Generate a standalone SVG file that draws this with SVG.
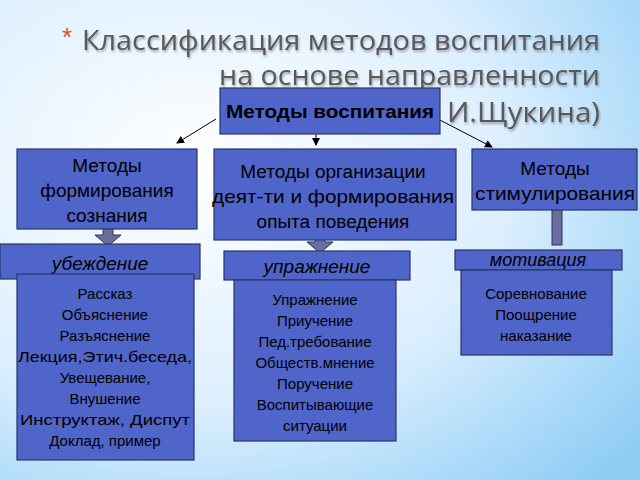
<svg xmlns="http://www.w3.org/2000/svg" width="640" height="480" viewBox="0 0 640 480">
<defs>
<radialGradient id="bg" cx="0.3" cy="0.35" r="0.9">
<stop offset="0" stop-color="#ffffff"/><stop offset="0.55" stop-color="#dcefff"/><stop offset="1" stop-color="#8fcdf5"/>
</radialGradient>
<marker id="ah" markerWidth="8" markerHeight="8" refX="7" refY="4" orient="auto" markerUnits="userSpaceOnUse">
<path d="M0,0 L8,4 L0,8 z" fill="#000"/>
</marker>
<filter id="sh"><feDropShadow dx="1" dy="2" stdDeviation="1" flood-color="#555" flood-opacity="0.5"/></filter>
</defs>
<style>
.b{fill:#5065c9;stroke:#2a3566;stroke-width:1.2}
.t{font-family:"Liberation Sans",Arial,sans-serif;fill:#000;text-anchor:middle}
.ti{font-family:"Open Sans","DejaVu Sans",sans-serif;font-size:28px;fill:#595959;filter:url(#sh)}
.ba{fill:#6c6c9e;stroke:#2a3566;stroke-width:1}
.ln{stroke:#000;stroke-width:1;fill:none;marker-end:url(#ah)}
</style>
<rect width="640" height="480" fill="url(#bg)"/>
<g id="title">
<text x="62" y="46" font-family="Liberation Sans,sans-serif" font-size="26" fill="#e0502a">*</text>
<text class="ti" x="82" y="50" textLength="518" lengthAdjust="spacingAndGlyphs">Классификация методов воспитания</text>
<text class="ti" x="219" y="85" textLength="381" lengthAdjust="spacingAndGlyphs">на основе направленности</text>
<text class="ti" x="447" y="122" textLength="153" lengthAdjust="spacingAndGlyphs">И.Щукина)</text>
</g>
<g id="connectors">
<line class="ln" x1="216" y1="119" x2="177" y2="143"/>
<line class="ln" x1="316" y1="110" x2="316" y2="145"/>
<line class="ln" x1="438" y1="119" x2="492" y2="147"/>
<path class="ba" d="M103,225 h10 v10 h8 l-13,11 l-13,-11 h8 z"/>
<path class="ba" d="M315,231 h10 v11 h8 l-13,11 l-13,-11 h8 z"/>
<rect class="ba" x="552" y="208" width="10" height="37"/>
</g>
<g id="root"><rect class="b" x="220" y="88" width="220" height="46"/>
<text class="t" x="330" y="118" font-size="18" font-weight="bold" textLength="208" lengthAdjust="spacingAndGlyphs">Методы воспитания</text></g>
<g id="n1"><rect class="b" x="17" y="149" width="180" height="80"/>
<text class="t" font-size="19"><tspan x="107" y="172">Методы</tspan><tspan x="107" y="197">формирования</tspan><tspan x="107" y="222">сознания</tspan></text></g>
<g id="n2"><rect class="b" x="214" y="149" width="242" height="91"/>
<text class="t" font-size="19"><tspan x="333" y="178">Методы организации</tspan><tspan x="333" y="203" textLength="242" lengthAdjust="spacingAndGlyphs">деят-ти и формирования</tspan><tspan x="333" y="228">опыта поведения</tspan></text></g>
<g id="n3"><rect class="b" x="472" y="149" width="165" height="61"/>
<text class="t" font-size="19"><tspan x="555" y="175">Методы</tspan><tspan x="555" y="200" textLength="160" lengthAdjust="spacingAndGlyphs">стимулирования</tspan></text></g>
<g id="h1"><rect class="b" x="0" y="244" width="200" height="35"/>
<text class="t" x="100" y="270" font-size="19" font-style="italic">убеждение</text></g>
<g id="h2"><rect class="b" x="224" y="251" width="186" height="29"/>
<text class="t" x="317" y="273" font-size="19" font-style="italic">упражнение</text></g>
<g id="h3"><rect class="b" x="455" y="250" width="167" height="20"/>
<text class="t" x="538" y="266" font-size="18" font-style="italic">мотивация</text></g>
<g id="l1"><rect class="b" x="17" y="274" width="177" height="186"/>
<text class="t" font-size="15"><tspan x="105" y="299">Рассказ</tspan><tspan x="105" y="320">Объяснение</tspan><tspan x="105" y="341">Разъяснение</tspan><tspan x="105" y="362" textLength="174" lengthAdjust="spacingAndGlyphs">Лекция,Этич.беседа,</tspan><tspan x="105" y="383">Увещевание,</tspan><tspan x="105" y="404">Внушение</tspan><tspan x="105" y="425" textLength="170" lengthAdjust="spacingAndGlyphs">Инструктаж, Диспут</tspan><tspan x="105" y="446">Доклад, пример</tspan></text></g>
<g id="l2"><rect class="b" x="234" y="280" width="162" height="161"/>
<text class="t" font-size="15"><tspan x="315" y="305">Упражнение</tspan><tspan x="315" y="326">Приучение</tspan><tspan x="315" y="347">Пед.требование</tspan><tspan x="315" y="368">Обществ.мнение</tspan><tspan x="315" y="389">Поручение</tspan><tspan x="315" y="410">Воспитывающие</tspan><tspan x="315" y="431">ситуации</tspan></text></g>
<g id="l3"><rect class="b" x="461" y="270" width="151" height="85"/>
<text class="t" font-size="15"><tspan x="536" y="299">Соревнование</tspan><tspan x="536" y="320">Поощрение</tspan><tspan x="536" y="341">наказание</tspan></text></g>
</svg>
